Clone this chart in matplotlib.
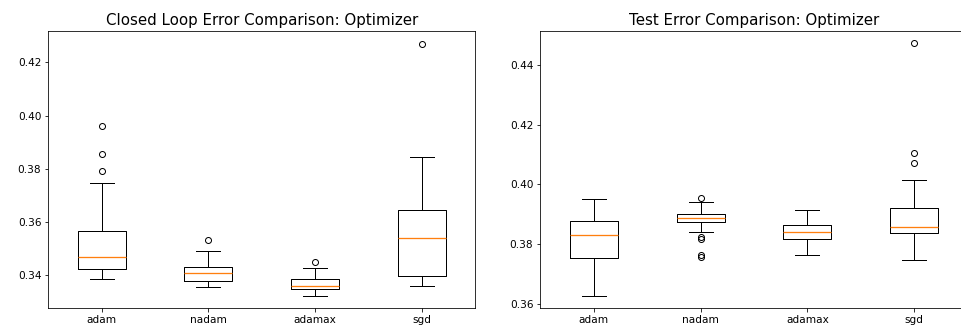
import matplotlib
matplotlib.use('Agg')
import matplotlib.pyplot as plt

plt.style.use('default')

names = ['adam', 'nadam', 'adamax', 'sgd']

# closed loop error: box stats
cl_whislo = [0.3384, 0.3354, 0.3323, 0.3360]
cl_q1 = [0.3421, 0.3379, 0.3349, 0.3398]
cl_med = [0.3469, 0.3408, 0.3359, 0.3541]
cl_q3 = [0.3566, 0.3431, 0.3384, 0.3646]
cl_whishi = [0.3748, 0.3490, 0.3428, 0.3845]
cl_fliers = [[0.3959, 0.3854, 0.3791], [0.3533], [0.3451], [0.4269]]

# test error
te_whislo = [0.3626, 0.3840, 0.3762, 0.3745]
te_q1 = [0.3754, 0.3875, 0.3818, 0.3836]
te_med = [0.3831, 0.3886, 0.3839, 0.3857]
te_q3 = [0.3878, 0.3899, 0.3865, 0.3921]
te_whishi = [0.3951, 0.3939, 0.3912, 0.4015]
te_fliers = [[], [0.3955, 0.3822, 0.3818, 0.3763, 0.3755], [], [0.4474, 0.4105, 0.4070]]


def make_stats(lo, q1, med, q3, hi, fl):
    stats = []
    for i in range(len(names)):
        stats.append({'label': names[i], 'whislo': lo[i], 'q1': q1[i], 'med': med[i],
                      'q3': q3[i], 'whishi': hi[i], 'fliers': fl[i]})
    return stats


W, H = 961, 335
fig = plt.figure(figsize=(W / 72, H / 72), dpi=72)
ax1 = fig.add_axes([48.3 / W, 1 - 308.3 / H, 426.7 / W, 277.6 / H])
ax2 = fig.add_axes([540.3 / W, 1 - 308.3 / H, 427.4 / W, 277.6 / H])

med = {'color': '#ff7f0e', 'linewidth': 1.3}

ax1.bxp(make_stats(cl_whislo, cl_q1, cl_med, cl_q3, cl_whishi, cl_fliers), widths=0.45,
        medianprops=med)
ax1.set_title('Closed Loop Error Comparison: Optimizer', fontsize=15)
ax1.set_ylim(0.3275, 0.4319)

ax2.bxp(make_stats(te_whislo, te_q1, te_med, te_q3, te_whishi, te_fliers), widths=0.45,
        medianprops=med)
ax2.set_title('Test Error Comparison: Optimizer', fontsize=15)
ax2.set_ylim(0.3584, 0.4515)

for ax in (ax1, ax2):
    ax.tick_params(labelsize=10.5)

fig.savefig('out.png', dpi=72)
